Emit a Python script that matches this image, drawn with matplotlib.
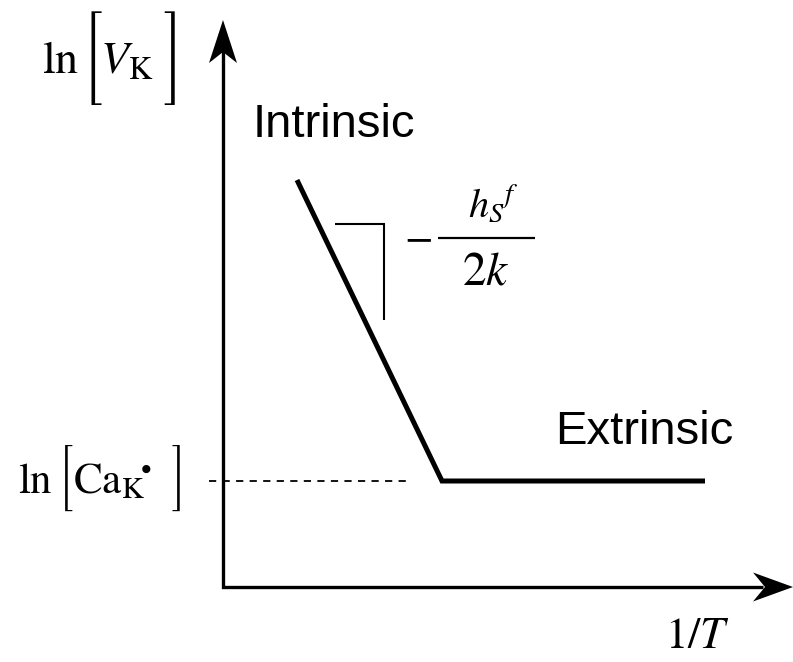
import matplotlib
matplotlib.use('Agg')
import numpy as np
import matplotlib.pyplot as plt
from matplotlib.textpath import TextPath
from matplotlib.font_manager import FontProperties

plt.rcParams['mathtext.fontset'] = 'stix'

# 1/T (arbitrary units) against ln[V_K]: intrinsic slope, then extrinsic plateau
inv_T = [0.74, 2.19, 4.82]
ln_VK = [4.07, 1.06, 1.06]
ln_Ca = 1.06
# little slope triangle next to the intrinsic branch
slope_x = [1.12, 1.61, 1.61]
slope_y = [3.63, 3.63, 2.67]

x_end = 5.70   # tip of the 1/T arrow
y_end = 5.67   # tip of the ln[V_K] arrow

fig = plt.figure(figsize=(7.93, 6.62), dpi=100)
ax = fig.add_axes([0, 0, 1, 1])
ax.set_xlim(-2.23, 5.70)
ax.set_ylim(-0.75, 5.87)
ax.axis('off')

# axes drawn by hand with arrow heads
ax.plot([0, 0, x_end - 0.3], [y_end - 0.3, 0, 0], color='k', lw=2.4,
        solid_joinstyle='miter', solid_capstyle='butt')
ax.fill([0, -0.14, 0, 0.14], [y_end, y_end - 0.43, y_end - 0.32, y_end - 0.43],
        color='k', lw=0)
ax.fill([x_end, x_end - 0.40, x_end - 0.28, x_end - 0.40], [0, 0.145, 0, -0.145],
        color='k', lw=0)

ax.plot(inv_T, ln_VK, color='k', lw=3.6, solid_joinstyle='miter', solid_capstyle='butt')
ax.plot([-0.14, inv_T[1] - 0.32], [ln_Ca, ln_Ca], color='k', lw=1.3, linestyle=(0, (4, 3.5)))
ax.plot(slope_x, slope_y, color='k', lw=1.5, solid_joinstyle='miter', solid_capstyle='butt')

sans = 'Liberation Sans'
ax.text(0.30, 4.50, 'Intrinsic', family=sans, fontsize=34, va='baseline', ha='left')
ax.text(3.32, 1.43, 'Extrinsic', family=sans, fontsize=34, va='baseline', ha='left')
ax.text(4.42, -0.61, r'$1/T$', fontsize=32, va='baseline', ha='left')

# slope label  -h_S^f / 2k, built up piece by piece so the bar can be wide
frac_y = 3.49
ax.text(1.945, frac_y - 0.115, r'$-$', fontsize=30, va='baseline', ha='center')
ax.plot([2.15, 3.12], [frac_y, frac_y], color='k', lw=1.6, solid_capstyle='butt')
ax.text(2.45, frac_y + 0.21, r'$h_S{}^{f}$', fontsize=29, va='baseline', ha='left')
ax.text(2.39, frac_y - 0.47, r'$2k$', fontsize=34, va='baseline', ha='left')

# tall brackets from the STIX size variant font
br_prop = FontProperties(family='STIXSizeThreeSym')
br_h = TextPath((0, 0), '[', size=1, prop=br_prop).get_extents().height


def bracket(x, y, ch, height_px):
    ax.text(x, y, ch, fontproperties=br_prop, fontsize=height_px * 0.72 / br_h,
            ha='center', va='center')


# ln[V_K]
ax.text(-1.81, 5.14, r'$\mathrm{ln}$', fontsize=33, va='baseline', ha='left')
bracket(-1.31, 5.29, '[', 93)
ax.text(-1.23, 5.14, r'$V_{\mathrm{K}}$', fontsize=33, va='baseline', ha='left')
bracket(-0.505, 5.29, ']', 93)

# ln[Ca_K•]
ax.text(-2.05, 0.94, r'$\mathrm{ln}$', fontsize=31, va='baseline', ha='left')
bracket(-1.575, 1.09, '[', 67)
ax.text(-1.50, 0.94, r'$\mathrm{Ca}_{\mathrm{K}}\!{}^{\bullet}$', fontsize=31,
        va='baseline', ha='left')
bracket(-0.45, 1.09, ']', 67)

fig.savefig('out.png', dpi=100)
